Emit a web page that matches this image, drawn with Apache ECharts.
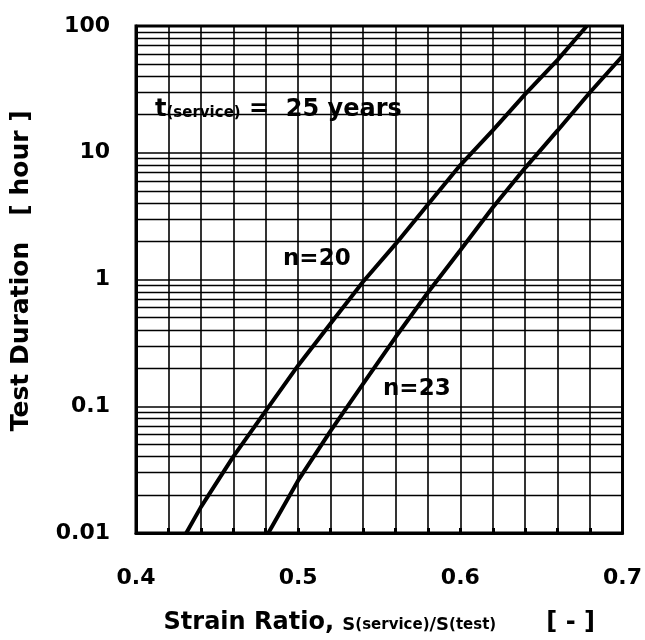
<!DOCTYPE html>
<html>
<head>
<meta charset="utf-8">
<script src="https://cdn.jsdelivr.net/npm/echarts@6/dist/echarts.min.js"></script>
<style>
  html, body { margin: 0; padding: 0; background: #fff; }
  #chart { width: 645px; height: 640px; }
</style>
</head>
<body>
<div id="chart"></div>
<script>
// Strain ratio (x) vs. required test duration in hours (y, log scale)
var curveN20 = [
  [0.431, 0.01], [0.44, 0.016], [0.46, 0.04], [0.48, 0.092], [0.50, 0.21],
  [0.52, 0.45], [0.54, 0.96], [0.56, 1.9], [0.58, 3.9], [0.60, 8.0],
  [0.62, 15], [0.64, 29], [0.66, 54], [0.678, 100]
];
var curveN23 = [
  [0.4816, 0.01], [0.50, 0.026], [0.52, 0.064], [0.54, 0.15], [0.56, 0.35],
  [0.58, 0.79], [0.60, 1.7], [0.62, 3.7], [0.64, 7.6], [0.66, 15],
  [0.68, 30], [0.70, 58]
];
var xTickLabels = ['0.4', '0.5', '0.6', '0.7'];
var yTickLabels = ['0.01', '0.1', '1', '10', '100'];
var decades = [0.01, 0.1, 1, 10];
var multipliers = [2, 3, 4, 5, 6, 7, 8, 9];

var FONT = '"DejaVu Sans", "Liberation Sans", Arial, sans-serif';

// minor horizontal grid lines inside each decade
var minorLines = [];
decades.forEach(function (d) {
  multipliers.forEach(function (m) {
    minorLines.push({ yAxis: +(d * m).toPrecision(3) });
  });
});

function fmtY(v) {
  var p = Math.round(Math.log10(v));
  return yTickLabels[p + 2] || '';
}
function fmtX(v) {
  var i = Math.round((v - 0.4) * 10);
  return xTickLabels[i] || '';
}

var chart = echarts.init(document.getElementById('chart'), null, { renderer: 'canvas' });
chart.setOption({
  animation: false,
  backgroundColor: '#fff',
  grid: {
    left: 136, right: 19, top: 26, bottom: 107,
    show: true, borderColor: '#000', borderWidth: 3, backgroundColor: 'transparent'
  },
  xAxis: {
    type: 'value', min: 0.4, max: 0.7, interval: 0.1,
    axisLine: { show: true, lineStyle: { color: '#000', width: 3 } },
    axisTick: { show: true, inside: true, length: 5, lineStyle: { color: '#000', width: 3 } },
    minorTick: { show: true, splitNumber: 5, length: 5, lineStyle: { color: '#000', width: 3 } },
    splitLine: { show: true, lineStyle: { color: '#000', width: 1.6 } },
    minorSplitLine: { show: true, lineStyle: { color: '#000', width: 1.6 } },
    axisLabel: {
      formatter: fmtX, color: '#000', fontFamily: FONT, fontWeight: 'bold',
      fontSize: 22, margin: 34
    },
    name: '{b|Strain Ratio, }{s|S}{u|(service)}{s|/S}{u|(test)}{b|      [ - ]}',
    nameLocation: 'middle', nameGap: 78,
    nameTextStyle: {
      rich: {
        b: { fontFamily: FONT, fontWeight: 'bold', fontSize: 24, color: '#000' },
        s: { fontFamily: FONT, fontWeight: 'bold', fontSize: 18, color: '#000', padding: [5, 0, 0, 0] },
        u: { fontFamily: FONT, fontWeight: 'bold', fontSize: 15, color: '#000', padding: [5, 0, 0, 0] }
      }
    }
  },
  yAxis: {
    type: 'log', logBase: 10, min: 0.01, max: 100,
    axisLine: { show: true, lineStyle: { color: '#000', width: 3 } },
    axisTick: { show: false },
    splitLine: { show: true, lineStyle: { color: '#000', width: 1.6 } },
    axisLabel: {
      formatter: fmtY, color: '#000', fontFamily: FONT, fontWeight: 'bold',
      fontSize: 22, margin: 26
    },
    name: '  Test Duration   [ hour ]',
    nameLocation: 'middle', nameGap: 102, nameRotate: 90,
    nameTextStyle: { fontFamily: FONT, fontWeight: 'bold', fontSize: 25, color: '#000' }
  },
  series: [
    {
      name: 'grid', type: 'line', data: [], silent: true,
      markLine: {
        silent: true, symbol: ['none', 'none'], animation: false,
        label: { show: false },
        lineStyle: { color: '#000', width: 1.4, type: 'solid' },
        data: minorLines
      }
    },
    {
      name: 'n=20', type: 'line', data: curveN20, showSymbol: false,
      lineStyle: { color: '#000', width: 4 }, z: 5
    },
    {
      name: 'n=23', type: 'line', data: curveN23, showSymbol: false,
      lineStyle: { color: '#000', width: 4 }, z: 5
    }
  ],
  graphic: [
    {
      type: 'text', left: 155, top: 98, z: 10,
      style: {
        text: '{t|t}{u|(service)}{t| =  25 years}',
        rich: {
          t: { fontFamily: FONT, fontWeight: 'bold', fontSize: 24, fill: '#000' },
          u: { fontFamily: FONT, fontWeight: 'bold', fontSize: 15, fill: '#000', padding: [6, 0, 0, 0] }
        }
      }
    },
    {
      type: 'text', left: 283, top: 248, z: 10,
      style: { text: 'n=20', fontFamily: FONT, fontWeight: 'bold', fontSize: 23, fill: '#000' }
    },
    {
      type: 'text', left: 383, top: 378, z: 10,
      style: { text: 'n=23', fontFamily: FONT, fontWeight: 'bold', fontSize: 23, fill: '#000' }
    }
  ]
});
</script>
</body>
</html>
